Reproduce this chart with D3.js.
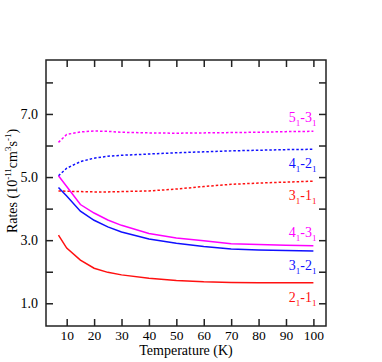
<!DOCTYPE html>
<html lang="en">
<head>
    <meta charset="UTF-8">
    <title>Rates</title>
    <script src="https://d3js.org/d3.v7.min.js"></script>
    <style>
        body { margin: 0; background: #fff; }
        text { font-family: "Liberation Serif", "Times New Roman", serif; }
    </style>
</head>
<body>
<div id="main"></div>
<script>
    // temperatures (K)
    const temps = [7, 10, 15, 20, 25, 30, 40, 50, 60, 70, 80, 90, 100]

    // rates, 10^-11 cm^3 s^-1
    const rate21_11 = [3.16, 2.75, 2.37, 2.11, 1.98, 1.90, 1.79, 1.72, 1.68, 1.66, 1.65, 1.65, 1.65]
    const rate31_21 = [4.67, 4.40, 3.92, 3.63, 3.42, 3.26, 3.04, 2.90, 2.80, 2.72, 2.69, 2.67, 2.66]
    const rate41_31 = [5.04, 4.70, 4.13, 3.86, 3.64, 3.47, 3.21, 3.07, 2.98, 2.89, 2.86, 2.84, 2.82]
    const rate31_11 = [4.56, 4.55, 4.54, 4.53, 4.53, 4.54, 4.56, 4.62, 4.70, 4.77, 4.81, 4.84, 4.87]
    const rate41_21 = [5.04, 5.28, 5.49, 5.60, 5.66, 5.69, 5.73, 5.77, 5.80, 5.83, 5.85, 5.87, 5.88]
    const rate51_31 = [6.10, 6.35, 6.43, 6.46, 6.45, 6.42, 6.40, 6.39, 6.40, 6.41, 6.42, 6.44, 6.45]

    const xTicks = [10, 20, 30, 40, 50, 60, 70, 80, 90, 100]
    const yTicks = [1, 2, 3, 4, 5, 6, 7, 8]
    const yLabelled = [1, 3, 5, 7]

    let series = [
        {name: ["5", "3"], values: rate51_31, color: "#ff00ff", dotted: true, side: "above"},
        {name: ["4", "2"], values: rate41_21, color: "#1010ff", dotted: true, side: "below"},
        {name: ["3", "1"], values: rate31_11, color: "#ff1010", dotted: true, side: "below"},
        {name: ["4", "3"], values: rate41_31, color: "#ff00ff", dotted: false, side: "above"},
        {name: ["3", "2"], values: rate31_21, color: "#1010ff", dotted: false, side: "below"},
        {name: ["2", "1"], values: rate21_11, color: "#ff1010", dotted: false, side: "below"}
    ]

    let width = 382, height = 362
    let plot = {left: 46, right: 326, top: 60, bottom: 326}

    let svg = d3.select("#main")
        .append("svg")
        .attr("width", width)
        .attr("height", height)

    let x = d3.scaleLinear().domain([2.45, 104.6]).range([plot.left, plot.right])
    let y = d3.scaleLinear().domain([0.28, 8.71]).range([plot.bottom, plot.top])

    let tick = 7

    // bottom axis with labels, ticks pointing inward
    svg.append("g")
        .attr("transform", `translate(0, ${plot.bottom})`)
        .call(d3.axisBottom(x).tickValues(xTicks).tickSizeInner(-tick).tickSizeOuter(0).tickPadding(4))
        .call(g => g.select(".domain").remove())
        .call(g => g.selectAll("text").attr("font-size", 13.5).attr("fill", "#000").style("font-family", "Liberation Serif"))
        .call(g => g.selectAll("line").attr("stroke", "#222").attr("stroke-width", 1.5))

    // top axis, ticks only
    svg.append("g")
        .attr("transform", `translate(0, ${plot.top})`)
        .call(d3.axisTop(x).tickValues(xTicks).tickSizeInner(-tick).tickSizeOuter(0).tickFormat(""))
        .call(g => g.select(".domain").remove())
        .call(g => g.selectAll("line").attr("stroke", "#222").attr("stroke-width", 1.5))

    // left axis
    svg.append("g")
        .attr("transform", `translate(${plot.left}, 0)`)
        .call(d3.axisLeft(y).tickValues(yTicks).tickSizeInner(-tick).tickSizeOuter(0).tickPadding(8)
            .tickFormat(d => yLabelled.includes(d) ? d3.format(".1f")(d) : ""))
        .call(g => g.select(".domain").remove())
        .call(g => g.selectAll("text").attr("font-size", 14).attr("fill", "#000").style("font-family", "Liberation Serif"))
        .call(g => g.selectAll("line").attr("stroke", "#222").attr("stroke-width", 1.5))

    // right axis, ticks only
    svg.append("g")
        .attr("transform", `translate(${plot.right}, 0)`)
        .call(d3.axisRight(y).tickValues(yTicks).tickSizeInner(-tick).tickSizeOuter(0).tickFormat(""))
        .call(g => g.select(".domain").remove())
        .call(g => g.selectAll("line").attr("stroke", "#222").attr("stroke-width", 1.5))

    // frame
    svg.append("rect")
        .attr("x", plot.left)
        .attr("y", plot.top)
        .attr("width", plot.right - plot.left)
        .attr("height", plot.bottom - plot.top)
        .attr("fill", "none")
        .attr("stroke", "#222")
        .attr("stroke-width", 1.5)

    let line = d3.line()
        .x((d, i) => x(temps[i]))
        .y(d => y(d))

    svg.append("g").selectAll("path")
        .data(series)
        .enter()
        .append("path")
        .attr("d", d => line(d.values))
        .attr("fill", "none")
        .attr("stroke", d => d.color)
        .attr("stroke-width", 1.5)
        .attr("stroke-dasharray", d => d.dotted ? "2.5,2" : null)

    // curve labels at the right end, e.g. 5_1-3_1
    let labels = svg.append("g").selectAll("text")
        .data(series)
        .enter()
        .append("text")
        .attr("x", x(100) + 3)
        .attr("y", d => y(d.values[d.values.length - 1]) + (d.side === "above" ? -9 : 19))
        .attr("text-anchor", "end")
        .attr("font-size", 14)
        .attr("fill", d => d.color)

    labels.append("tspan").text(d => d.name[0])
    labels.append("tspan").attr("font-size", 9).attr("dy", 4).text("1")
    labels.append("tspan").attr("dy", -4).text(d => "-" + d.name[1])
    labels.append("tspan").attr("font-size", 9).attr("dy", 4).text("1")

    // axis titles
    svg.append("text")
        .attr("x", (plot.left + plot.right) / 2)
        .attr("y", 355)
        .attr("text-anchor", "middle")
        .attr("font-size", 14)
        .text("Temperature (K)")

    let yTitle = svg.append("text")
        .attr("transform", "translate(17, 181) rotate(-90)")
        .attr("text-anchor", "middle")
        .attr("font-size", 14)
    yTitle.append("tspan").text("Rates (10")
    yTitle.append("tspan").attr("font-size", 9).attr("dy", -6).text("-11")
    yTitle.append("tspan").attr("dy", 6).text("cm")
    yTitle.append("tspan").attr("font-size", 9).attr("dy", -6).text("3")
    yTitle.append("tspan").attr("dy", 6).text("s")
    yTitle.append("tspan").attr("font-size", 9).attr("dy", -6).text("-1")
    yTitle.append("tspan").attr("dy", 6).text(")")
</script>
</body>
</html>
